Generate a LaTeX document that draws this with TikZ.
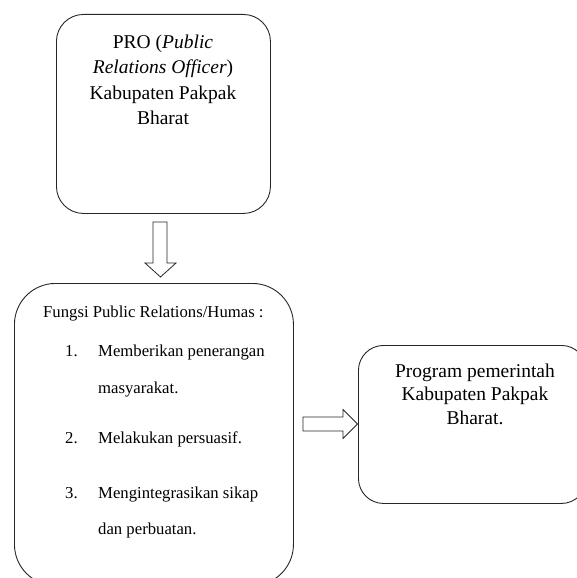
\documentclass[tikz,border=0pt]{standalone}
\usepackage{fontspec}
\setmainfont{Liberation Serif}
\begin{document}
\begin{tikzpicture}[x=1pt,y=-1pt,
  box/.style={draw=black!85, line width=0.9pt, inner sep=0pt, anchor=north west},
  big/.style={font=\fontsize{19.5}{25.5}\selectfont, inner sep=0pt, align=center},
  rbig/.style={font=\fontsize{19.5}{23.5}\selectfont, inner sep=0pt, align=center},
  small/.style={font=\fontsize{16.7}{20}\selectfont, inner sep=0pt, anchor=base west},
  blockarrow/.style={draw=black!85, line width=0.8pt, fill=white, line join=miter}]
\useasboundingbox (0,0) rectangle (577,578);
\clip (0,0) rectangle (577,578);
% boxes
\node[box, rounded corners=27pt, minimum width=214pt, minimum height=199pt] (pro) at (56,14) {};
\node[box, rounded corners=41pt, minimum width=279pt, minimum height=302pt] (fungsi) at (14,283) {};
\node[box, rounded corners=25pt, minimum width=228pt, minimum height=158pt] (prog) at (358,345) {};
% texts
\node[big, anchor=north] (protext) at (163,34.5) {PRO (\textit{Public}\\\textit{Relations Officer})\\Kabupaten Pakpak\\Bharat};
\node[small] (f0) at (43,317) {Fungsi Public Relations/Humas :};
\node[small] (n1) at (65,356) {1.};
\node[small] (t1) at (98,356) {Memberikan penerangan};
\node[small] (t1b) at (98,393) {masyarakat.};
\node[small] (n2) at (65,443) {2.};
\node[small] (t2) at (98,443) {Melakukan persuasif.};
\node[small] (n3) at (65,498) {3.};
\node[small] (t3) at (98,498) {Mengintegrasikan sikap};
\node[small] (t3b) at (98,534) {dan perbuatan.};
\node[rbig, anchor=north] (progtext) at (475,363.5) {Program pemerintah\\Kabupaten Pakpak\\Bharat.};
% block arrows
\draw[blockarrow] (153,222) -- (167,222) -- (167,263) -- (176,263) -- (160.5,277) -- (145,263) -- (153,263) -- cycle;
\draw[blockarrow] (303,417) -- (343,417) -- (343,409.5) -- (357.5,424) -- (343,438.5) -- (343,431) -- (303,431) -- cycle;
\end{tikzpicture}
\end{document}
